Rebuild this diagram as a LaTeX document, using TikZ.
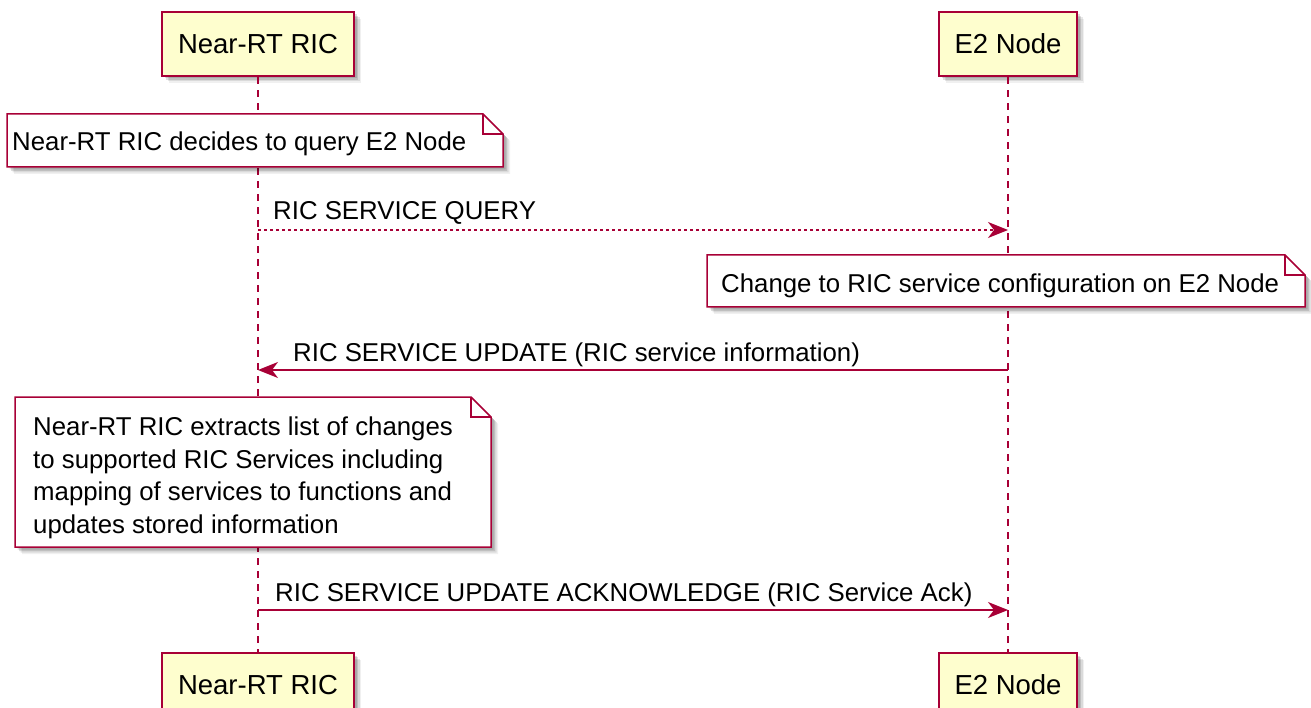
\documentclass[tikz,border=0pt]{standalone}
\usepackage{fontspec}
\setmainfont{Liberation Sans}
\usetikzlibrary{arrows.meta,shadows}
\definecolor{pcrim}{HTML}{A80036}
\definecolor{pyel}{HTML}{FEFECE}
\begin{document}
\begin{tikzpicture}[x=1pt,y=-1pt,
  shade/.style={
    drop shadow={shadow xshift=7pt, shadow yshift=-7pt, opacity=0.06, fill=black},
    drop shadow={shadow xshift=5.5pt, shadow yshift=-5.5pt, opacity=0.09, fill=black},
    drop shadow={shadow xshift=4pt, shadow yshift=-4pt, opacity=0.12, fill=black},
    drop shadow={shadow xshift=2.5pt, shadow yshift=-2.5pt, opacity=0.12, fill=black}},
  part/.style={draw=pcrim, fill=pyel, line width=2.2pt, minimum height=64pt, inner sep=0pt,
    font=\fontsize{27.5}{30}\selectfont, shade},
  life/.style={draw=pcrim, line width=1.5pt, dash pattern=on 7pt off 6pt},
  msg/.style={draw=pcrim, line width=1.5pt, -{Stealth[length=20pt,width=16pt,inset=6pt]}},
  msgdot/.style={msg, dash pattern=on 3pt off 3pt},
  lbl/.style={font=\fontsize{25.8}{30}\selectfont, inner sep=0pt, anchor=base west},
  notetxt/.style={font=\fontsize{25.8}{32.5}\selectfont, align=left, inner sep=0pt},
  notebody/.style={draw=pcrim, fill=white, line width=1.5pt, line join=miter, shade},
  notefold/.style={draw=pcrim, line width=1.5pt},
]
\useasboundingbox (0,0) rectangle (1311,708);
\clip (0,0) rectangle (1311,708);

% participants
\node[part, minimum width=192pt] (ricT) at (258,44) {Near-RT RIC};
\node[part, minimum width=138pt] (e2T) at (1008,44) {E2 Node};
\node[part, minimum width=192pt, anchor=north] (ricB) at (258,652) {Near-RT RIC};
\node[part, minimum width=138pt, anchor=north] (e2B) at (1008,652) {E2 Node};

% lifelines
\draw[life] (ricT.south) -- (ricB.north);
\draw[life] (e2T.south) -- (e2B.north);

% note corners
\coordinate (n1a) at (7,114);   \coordinate (n1b) at (503,167);
\coordinate (n2a) at (707,255); \coordinate (n2b) at (1305,307);
\coordinate (n3a) at (15,397);  \coordinate (n3b) at (491,547);

\foreach \n in {n1,n2,n3}{
  \path[notebody] (\n a) -- ([xshift=-20pt]\n b |- \n a) -- ([yshift=-20pt]\n b |- \n a)
     -- (\n b) -- (\n a |- \n b) -- cycle;
  \draw[notefold] ([xshift=-20pt]\n b |- \n a) -- ([xshift=-20pt,yshift=-20pt]\n b |- \n a)
     -- ([yshift=-20pt]\n b |- \n a);
}

\node[notetxt, anchor=base west] (t1) at (12,151) {Near-RT RIC decides to query E2 Node};
\node[notetxt, anchor=base west] (t2) at (721,293) {Change to RIC service configuration on E2 Node};
\node[notetxt, anchor=north west] (t3) at (33,417)
  {Near-RT RIC extracts list of changes\\to supported RIC Services including\\mapping of services to functions and\\updates stored information};

% message anchor points on the lifelines
\coordinate (q1) at (258,230);
\coordinate (q2) at (1008,230);
\coordinate (u1) at (1008,370);
\coordinate (u2) at (258,370);
\coordinate (a1) at (258,610);
\coordinate (a2) at (1008,610);

\draw[msgdot] (q1) -- (q2);
\node[lbl] (lq) at (273,220) {RIC SERVICE QUERY};
\draw[msg] (u1) -- (u2);
\node[lbl] (lu) at (293,361) {RIC SERVICE UPDATE (RIC service information)};
\draw[msg] (a1) -- (a2);
\node[lbl] (la) at (275,601) {RIC SERVICE UPDATE ACKNOWLEDGE (RIC Service Ack)};
\end{tikzpicture}
\end{document}
